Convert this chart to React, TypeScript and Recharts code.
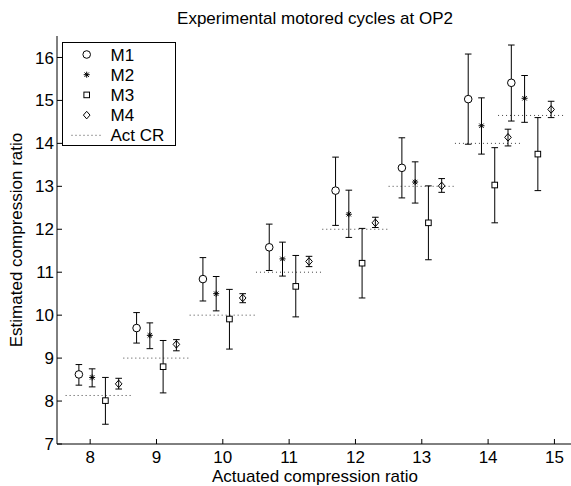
import React from 'react';
import { ComposedChart, Scatter, XAxis, YAxis, ErrorBar, ReferenceLine } from 'recharts';

const FONT = "'Liberation Sans', Arial, Helvetica, sans-serif";

const titleText = 'Experimental motored cycles at OP2';
const xLabelText = 'Actuated compression ratio';
const yLabelText = 'Estimated compression ratio';

const actCR = [8.13, 9, 10, 11, 12, 13, 14, 14.65];
const xTicks = [8, 9, 10, 11, 12, 13, 14, 15];
const yTicks = [7, 8, 9, 10, 11, 12, 13, 14, 15, 16];
const seriesNames = ['M1', 'M2', 'M3', 'M4'];
const seriesOffsets = [-0.3, -0.1, 0.1, 0.3];

const m1Mean = [8.62, 9.70, 10.84, 11.58, 12.90, 13.43, 15.03, 15.41];
const m1Low = [8.37, 9.35, 10.33, 11.04, 12.09, 12.73, 13.98, 14.52];
const m1High = [8.85, 10.06, 11.34, 12.12, 13.68, 14.13, 16.08, 16.29];

const m2Mean = [8.55, 9.53, 10.50, 11.31, 12.35, 13.10, 14.41, 15.05];
const m2Low = [8.33, 9.22, 10.10, 10.91, 11.81, 12.61, 13.75, 14.49];
const m2High = [8.75, 9.82, 10.90, 11.70, 12.91, 13.57, 15.06, 15.58];

const m3Mean = [8.01, 8.80, 9.91, 10.67, 11.21, 12.15, 13.03, 13.75];
const m3Low = [7.46, 8.19, 9.21, 9.96, 10.40, 11.29, 12.15, 12.90];
const m3High = [8.55, 9.41, 10.60, 11.39, 12.02, 13.01, 13.90, 14.60];

const m4Mean = [8.40, 9.32, 10.40, 11.25, 12.15, 13.01, 14.14, 14.79];
const m4Low = [8.28, 9.17, 10.29, 11.13, 12.04, 12.86, 13.94, 14.60];
const m4High = [8.53, 9.43, 10.50, 11.37, 12.28, 13.18, 14.33, 14.98];

const means = [m1Mean, m2Mean, m3Mean, m4Mean];
const lows = [m1Low, m2Low, m3Low, m4Low];
const highs = [m1High, m2High, m3High, m4High];

const seriesData = seriesNames.map((name, s) =>
  actCR.map((a, i) => ({
    x: a + seriesOffsets[s],
    y: means[s][i],
    err: [means[s][i] - lows[s][i], highs[s][i] - means[s][i]],
  }))
);

const Marker = ({ kind, cx, cy }: { kind: number; cx: number; cy: number }) => {
  if (cx == null || cy == null) return null;
  const st = { stroke: '#000', strokeWidth: 1 };
  if (kind === 0) return <circle cx={cx} cy={cy} r={3.8} fill="#fff" {...st} />;
  if (kind === 1) {
    const r = 3, d = 2.2;
    return (
      <g {...st}>
        <line x1={cx} y1={cy - r} x2={cx} y2={cy + r} />
        <line x1={cx - r} y1={cy} x2={cx + r} y2={cy} />
        <line x1={cx - d} y1={cy - d} x2={cx + d} y2={cy + d} />
        <line x1={cx - d} y1={cy + d} x2={cx + d} y2={cy - d} />
      </g>
    );
  }
  if (kind === 2) return <rect x={cx - 2.8} y={cy - 2.8} width={5.6} height={5.6} fill="#fff" {...st} />;
  return (
    <polygon
      points={`${cx},${cy - 3.8} ${cx + 3.3},${cy} ${cx},${cy + 3.8} ${cx - 3.3},${cy}`}
      fill="none"
      {...st}
    />
  );
};

const tickStyle = { fill: '#000', fontSize: 17, fontFamily: FONT };
const XD: [number, number] = [7.5, 15.28];
const YD: [number, number] = [7, 16.5];

export default function App() {
  const rowY = [54.5, 74.7, 94.9, 115.1, 135.3];
  return (
    <div style={{ position: 'absolute', left: 0, top: 0, width: 571, height: 486, overflow: 'hidden', background: '#fff' }}>
      <ComposedChart width={576} height={486} margin={{ top: 36, right: 3, bottom: 0, left: 0 }}>
        <XAxis
          dataKey="x"
          type="number"
          domain={XD}
          ticks={xTicks}
          allowDataOverflow
          interval={0}
          height={42}
          tickSize={-5}
          tickMargin={12}
          axisLine={{ stroke: '#000' }}
          tickLine={{ stroke: '#000' }}
          tick={tickStyle}
        />
        <XAxis
          xAxisId="top"
          orientation="top"
          type="number"
          domain={XD}
          ticks={xTicks}
          allowDataOverflow
          interval={0}
          height={0}
          tickSize={-5}
          axisLine={{ stroke: '#000' }}
          tickLine={{ stroke: '#000' }}
          tick={false}
        />
        <YAxis
          dataKey="y"
          type="number"
          domain={YD}
          ticks={yTicks}
          allowDataOverflow
          interval={0}
          width={57}
          tickSize={-5}
          tickMargin={8}
          axisLine={{ stroke: '#000' }}
          tickLine={{ stroke: '#000' }}
          tick={tickStyle}
        />
        <YAxis
          yAxisId="right"
          orientation="right"
          type="number"
          domain={YD}
          ticks={yTicks}
          allowDataOverflow
          interval={0}
          width={0}
          tickSize={-5}
          axisLine={{ stroke: '#000' }}
          tickLine={{ stroke: '#000' }}
          tick={false}
        />
        {actCR.map((a, i) => (
          <ReferenceLine
            key={'act' + i}
            segment={[{ x: a - 0.5, y: a }, { x: a + 0.5, y: a }]}
            stroke="#444"
            strokeWidth={1}
            strokeDasharray="1 3"
            ifOverflow="visible"
          />
        ))}
        {seriesData.map((d, s) => (
          <Scatter
            key={seriesNames[s]}
            name={seriesNames[s]}
            data={d}
            dataKey="y"
            isAnimationActive={false}
            shape={(p: any) => <Marker kind={s} cx={p.cx} cy={p.cy} />}
          >
            <ErrorBar dataKey="err" direction="y" width={3.3} stroke="#000" strokeWidth={1} />
          </Scatter>
        ))}
      </ComposedChart>
      <svg
        width={571}
        height={486}
        style={{ position: 'absolute', left: 0, top: 0, pointerEvents: 'none' }}
        fontFamily={FONT}
        fontSize={17}
      >
        <text x={315} y={23.5} textAnchor="middle" fill="#000">{titleText}</text>
        <text x={315} y={482} textAnchor="middle" fill="#000">{xLabelText}</text>
        <text transform="translate(22,240) rotate(-90)" textAnchor="middle" fill="#000">{yLabelText}</text>
        <rect x={62.5} y={42.5} width={113} height={103} fill="#fff" stroke="#000" strokeWidth={1} />
        {seriesNames.map((n, s) => (
          <g key={n}>
            <Marker kind={s} cx={86.7} cy={rowY[s]} />
            <text x={110.5} y={rowY[s] + 6} fill="#000">{n}</text>
          </g>
        ))}
        <line x1={71.5} y1={rowY[4]} x2={101} y2={rowY[4]} stroke="#444" strokeWidth={1} strokeDasharray="1 3" />
        <text x={110.5} y={rowY[4] + 6} fill="#000">Act CR</text>
      </svg>
    </div>
  );
}
